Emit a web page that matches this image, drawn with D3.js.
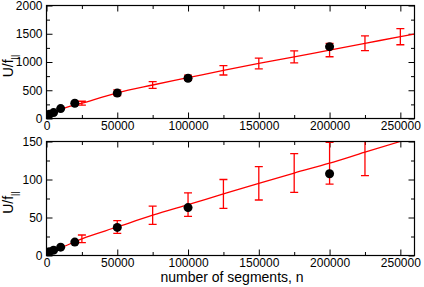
<!DOCTYPE html>
<html>
<head>
<meta charset="utf-8">
<script src="https://cdn.jsdelivr.net/npm/d3@7"></script>
<style>
  body { margin: 0; background: #fff; }
  svg { display: block; font-family: "Liberation Sans", Arial, sans-serif; }
  .tick text { font-size: 12px; fill: #000; }
</style>
</head>
<body>
<svg width="424" height="287"></svg>
<script>
// black points (simulation data)
var dotN = [1000, 2000, 5000, 10000, 20000, 50000, 100000, 200000];
var dotTop = [50, 75, 105, 175, 270, 450, 712, 1272];
var dotBot = [3.5, 5, 7, 11, 17.6, 37, 63, 107.5];

// red error bars
var errN = [25000, 50000, 75000, 100000, 125000, 150000, 175000, 200000, 225000, 250000];
var errTopMean = [270, 455, 593, 722, 853, 975, 1090, 1212, 1331, 1448];
var errTopHalf = [35, 50, 60, 45, 83, 95, 107, 119, 131, 143];
var errBotN = [25000, 50000, 75000, 100000, 125000, 150000, 175000, 200000, 225000];
var errBotMean = [22, 37.5, 53, 67, 81, 95, 108.5, 121.5, 136];
var errBotHalf = [5, 8.5, 12, 15.5, 19, 22, 25.5, 27.5, 31];

// red fit curves
var fitN = [0, 5000, 10000, 25000, 50000, 75000, 100000, 125000, 150000, 175000, 200000, 225000, 250000, 260000];
var fitTop = [0, 95, 160, 270, 455, 593, 722, 853, 975, 1090, 1212, 1331, 1448, 1496];
var fitBot = [2, 6.5, 10, 22, 37.5, 53, 67, 81, 95, 108.5, 121.5, 136, 150, 155.5];

var xTicks = [0, 50000, 100000, 150000, 200000, 250000];

var svg = d3.select("svg");

var x = d3.scaleLinear().domain([0, 260000]).range([46.5, 414.5]);

var panels = [
  {y: d3.scaleLinear().domain([0, 2000]).range([118.5, 5.5]), major: 500, minor: 250,
   dots: dotTop, eN: errN, eMean: errTopMean, eHalf: errTopHalf, fit: fitTop, id: "clipTop"},
  {y: d3.scaleLinear().domain([0, 150]).range([255.5, 141.5]), major: 50, minor: 25,
   dots: dotBot, eN: errBotN, eMean: errBotMean, eHalf: errBotHalf, fit: fitBot, id: "clipBot"}
];

var defs = svg.append("defs");

panels.forEach(function (p) {
  var y = p.y;
  var y0 = y.range()[0], y1 = y.range()[1];
  var x0 = x.range()[0], x1 = x.range()[1];

  defs.append("clipPath").attr("id", p.id)
    .append("rect")
    .attr("x", x0).attr("y", y1)
    .attr("width", x1 - x0).attr("height", y0 - y1);

  var yMajor = d3.range(0, y.domain()[1] + 1, p.major);
  var yMinor = d3.range(0, y.domain()[1] + 1, p.minor).filter(function (v) { return v % p.major != 0; });
  var xMinor = d3.range(25000, 260000, 50000);

  // axes, ticks pointing inward on all four sides
  svg.append("g").attr("transform", "translate(0," + y0 + ")")
    .call(d3.axisBottom(x).tickValues(xTicks).tickSize(-6).tickSizeOuter(0).tickPadding(3).tickFormat(d3.format("d")));
  svg.append("g").attr("transform", "translate(0," + y0 + ")")
    .call(d3.axisBottom(x).tickValues(xMinor).tickSize(-3.5).tickSizeOuter(0).tickFormat(""));
  svg.append("g").attr("transform", "translate(0," + y1 + ")")
    .call(d3.axisTop(x).tickValues(xTicks).tickSize(-6).tickSizeOuter(0).tickFormat(""));
  svg.append("g").attr("transform", "translate(0," + y1 + ")")
    .call(d3.axisTop(x).tickValues(xMinor).tickSize(-3.5).tickSizeOuter(0).tickFormat(""));

  svg.append("g").attr("transform", "translate(" + x0 + ",0)")
    .call(d3.axisLeft(y).tickValues(yMajor).tickSize(-6).tickSizeOuter(0).tickPadding(4).tickFormat(d3.format("d")));
  svg.append("g").attr("transform", "translate(" + x0 + ",0)")
    .call(d3.axisLeft(y).tickValues(yMinor).tickSize(-3.5).tickSizeOuter(0).tickFormat(""));
  svg.append("g").attr("transform", "translate(" + x1 + ",0)")
    .call(d3.axisRight(y).tickValues(yMajor).tickSize(-6).tickSizeOuter(0).tickFormat(""));
  svg.append("g").attr("transform", "translate(" + x1 + ",0)")
    .call(d3.axisRight(y).tickValues(yMinor).tickSize(-3.5).tickSizeOuter(0).tickFormat(""));

  svg.selectAll(".domain").remove();

  var plot = svg.append("g").attr("clip-path", "url(#" + p.id + ")");

  var line = d3.line()
    .x(function (d, i) { return x(fitN[i]); })
    .y(function (d) { return y(d); })
    .curve(d3.curveMonotoneX);

  plot.append("path")
    .datum(p.fit)
    .attr("d", line)
    .attr("fill", "none")
    .attr("stroke", "#ff0000")
    .attr("stroke-width", 1.3);

  var bars = plot.append("g").selectAll("g")
    .data(p.eN)
    .enter().append("g")
    .attr("stroke", "#ff0000")
    .attr("stroke-width", 1.3);
  bars.append("line")
    .attr("x1", function (d) { return x(d); })
    .attr("x2", function (d) { return x(d); })
    .attr("y1", function (d, i) { return y(p.eMean[i] - p.eHalf[i]); })
    .attr("y2", function (d, i) { return y(p.eMean[i] + p.eHalf[i]); });
  [-1, 1].forEach(function (s) {
    bars.append("line")
      .attr("x1", function (d) { return x(d) - 4; })
      .attr("x2", function (d) { return x(d) + 4; })
      .attr("y1", function (d, i) { return y(p.eMean[i] + s * p.eHalf[i]); })
      .attr("y2", function (d, i) { return y(p.eMean[i] + s * p.eHalf[i]); });
  });

  plot.append("g").selectAll("circle")
    .data(p.dots)
    .enter().append("circle")
    .attr("cx", function (d, i) { return x(dotN[i]); })
    .attr("cy", function (d) { return y(d); })
    .attr("r", 4.5)
    .attr("fill", "#000");

  // frame
  svg.append("rect")
    .attr("x", x0).attr("y", y1)
    .attr("width", x1 - x0).attr("height", y0 - y1)
    .attr("fill", "none")
    .attr("stroke", "#000")
    .attr("stroke-width", 1.2);

  // y label U/f||
  var lab = svg.append("text")
    .attr("transform", "translate(13," + ((y0 + y1) / 2 + 4) + ") rotate(-90)")
    .attr("text-anchor", "middle")
    .style("font-size", "14px");
  lab.append("tspan").text("U/f");
  lab.append("tspan").attr("dy", 5).style("font-size", "9px").text("||");
});

svg.selectAll(".tick line").attr("stroke", "#000");

svg.append("text")
  .attr("x", 232)
  .attr("y", 282)
  .attr("text-anchor", "middle")
  .style("font-size", "14px")
  .text("number of segments, n");
</script>
</body>
</html>
